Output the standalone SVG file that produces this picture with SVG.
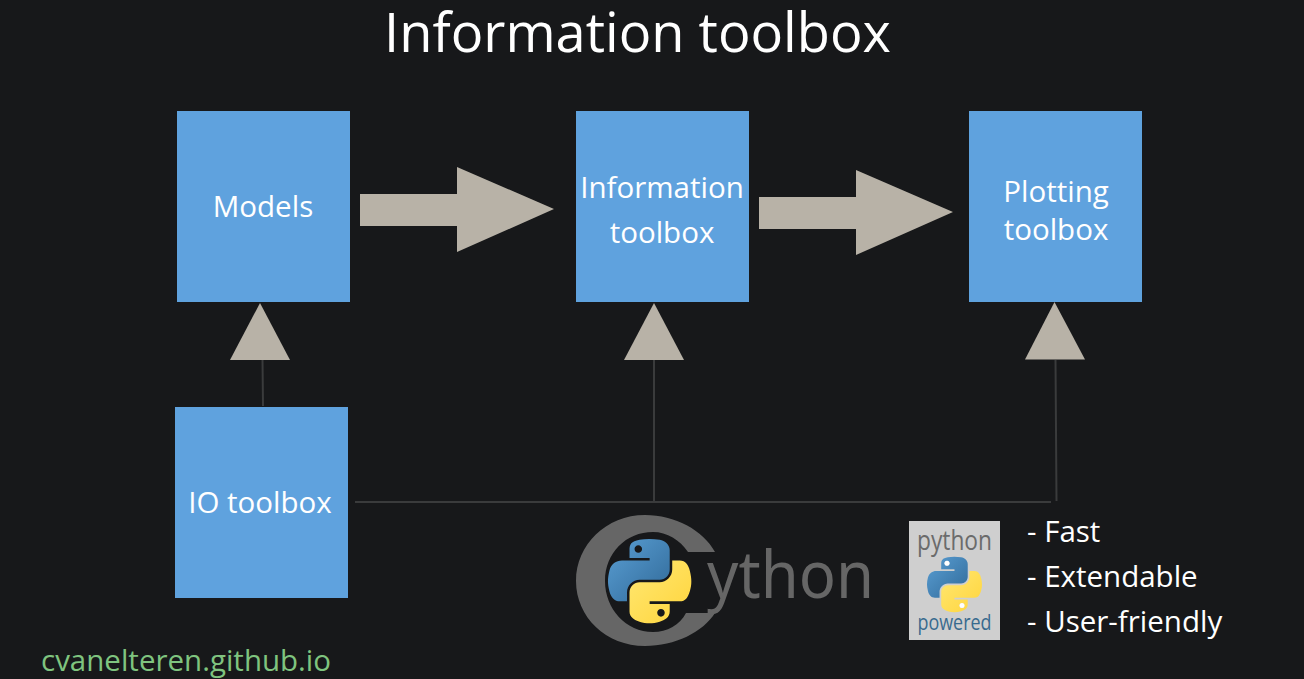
<svg xmlns="http://www.w3.org/2000/svg" width="1304" height="679" viewBox="0 0 1304 679">
<style>
text{font-family:"Open Sans","Noto Sans",sans-serif;fill:#fff}
.box{fill:#5fa2de}
.lbl{font-size:29.5px;text-anchor:middle}
.arrow{fill:#b8b2a7}
.line{stroke:#3a3b3c;stroke-width:2;fill:none}
.bul{font-size:29.5px}
</style>
<defs>
<linearGradient id="pb" x1="0" y1="0" x2="1" y2="1"><stop offset="0" stop-color="#5a9fd4"/><stop offset="1" stop-color="#306998"/></linearGradient>
<linearGradient id="py" x1="0" y1="0" x2="1" y2="1"><stop offset="0" stop-color="#ffe873"/><stop offset="1" stop-color="#ffd43b"/></linearGradient>
<g id="snake">
<path fill="url(#pb)" fill-rule="evenodd" d="M54.92 0C50.34.02 45.96.41 42.11 1.09C30.76 3.1 28.7 7.29 28.7 15.03V25.25H55.51V28.66H18.64C10.85 28.66 4.02 33.34 1.89 42.25C-.57 52.46-.68 58.84 1.89 69.5C3.79 77.44 8.35 83.09 16.14 83.09H25.36V70.84C25.36 61.99 33.01 54.19 42.11 54.19H68.89C76.34 54.19 82.29 48.05 82.29 40.56V15.03C82.29 7.77 76.16 2.31 68.89 1.09C64.28.33 59.5-.02 54.92 0ZM40.42 8.22C43.19 8.22 45.45 10.52 45.45 13.34C45.45 16.16 43.19 18.44 40.42 18.44C37.64 18.44 35.39 16.16 35.39 13.34C35.39 10.52 37.64 8.22 40.42 8.22Z"/>
<path fill="url(#py)" fill-rule="evenodd" d="M85.64 28.66V40.56C85.64 49.79 77.81 57.56 68.89 57.56H42.11C34.77 57.56 28.7 63.84 28.7 71.19V96.72C28.7 103.99 35.02 108.26 42.11 110.35C50.59 112.84 58.73 113.29 68.89 110.35C75.64 108.39 82.29 104.46 82.29 96.72V86.5H55.51V83.09H95.7C103.49 83.09 106.39 77.66 109.1 69.5C111.89 61.09 111.77 53 109.1 42.25C107.18 34.5 103.5 28.66 95.7 28.66ZM70.64 93.3C73.42 93.3 75.67 95.58 75.67 98.39C75.67 101.22 73.42 103.52 70.64 103.52C67.87 103.52 65.61 101.22 65.61 98.39C65.61 95.58 67.87 93.3 70.64 93.3Z"/>
</g>
</defs>
<rect width="1304" height="679" fill="#17181a"/>
<text id="title" x="637.500" y="52" font-size="54.2" text-anchor="middle">Information toolbox</text>
<g id="connectors">
<path class="line" d="M262.500 360L263 406M355 502H1051M654 360V501M1055.500 360L1056.500 501"/>
<path class="arrow" d="M360 194H457V167L554 209L457 252V226H360Z"/>
<path class="arrow" d="M759 197H856V170L953 212L856 255V229H759Z"/>
<path class="arrow" d="M260 303L290 360H230Z"/>
<path class="arrow" d="M654 303L684 360H624Z"/>
<path class="arrow" d="M1054.500 302L1085 359.500H1025Z"/>
</g>
<g id="models"><rect class="box" x="177" y="111" width="173" height="191"/><text class="lbl" x="263" y="217">Models</text></g>
<g id="information"><rect class="box" x="576" y="111" width="173" height="191"/><text class="lbl" x="662" y="198">Information</text><text class="lbl" x="662" y="243">toolbox</text></g>
<g id="plotting"><rect class="box" x="969" y="111" width="173" height="191"/><text class="lbl" x="1056" y="202">Plotting</text><text class="lbl" x="1056" y="240">toolbox</text></g>
<g id="io"><rect class="box" x="175" y="407" width="173" height="191"/><text class="lbl" x="260" y="513">IO toolbox</text></g>
<g id="cython">
<text x="707" y="598" font-size="66" textLength="167" lengthAdjust="spacingAndGlyphs" style="fill:#666;font-family:'Noto Sans',sans-serif">ython</text>
<path fill="#666" d="M715 552C703 530 675 515 645 515C606 515 576 545 576 581C576 617 606 646 645 646C675 646 703 632 715 613H686C680 625 667 632 653 632C626 632 605 609 605 581C605 553 626 532 653 532C667 532 680 540 688 552Z"/>
<use href="#snake" transform="translate(608 539) scale(.75)"/>
</g>
<g id="python-powered">
<rect x="909" y="521" width="91" height="119" fill="#cfcfcf"/>
<text x="954.500" y="549.500" font-size="27" text-anchor="middle" textLength="75" lengthAdjust="spacingAndGlyphs" style="fill:#6b6b6b">python</text>
<use href="#snake" transform="translate(927 556.700) scale(.495)"/>
<circle cx="947" cy="563.300" r="2.500" fill="#fff"/>
<circle cx="962" cy="605.400" r="2.500" fill="#fff"/>
<text x="954.500" y="630" font-size="22" text-anchor="middle" textLength="74" lengthAdjust="spacingAndGlyphs" style="fill:#386a8e">powered</text>
</g>
<g id="bullets">
<text class="bul" x="1027" y="542">- Fast</text>
<text class="bul" x="1027" y="587">- Extendable</text>
<text class="bul" x="1027" y="632">- User-friendly</text>
</g>
<text id="url" x="41" y="671" font-size="29.500" style="fill:#7fc47f">cvanelteren.github.io</text>
</svg>
